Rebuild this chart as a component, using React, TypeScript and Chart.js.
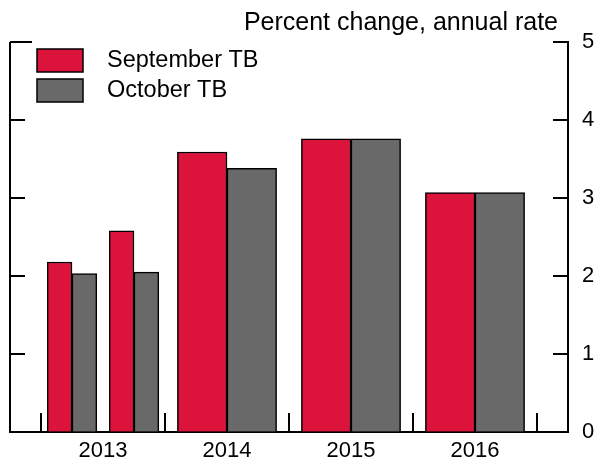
import React, { useEffect, useRef } from 'react';
import { Chart, registerables } from 'chart.js';

Chart.register(...registerables);

// ---- Data ----
const chartTitle = 'Percent change, annual rate';
const seriesNames = ['September TB', 'October TB'];
const seriesStacks = ['sept', 'oct'];
const seriesColors = ['#DC143C', '#696969'];
const years = ['2013', '2014', '2015', '2016'];
const halfYearPeriods = ['2013 H1', '2013 H2'];
const septHalf = [2.18, 2.58];
const octHalf = [2.03, 2.05];
const annualPeriods = ['2014', '2015', '2016'];
const septAnnual = [3.59, 3.76, 3.07];
const octAnnual = [3.38, 3.76, 3.07];
const yTicks = [0, 1, 2, 3, 4, 5];

const FONT = '"Liberation Sans", Arial, Helvetica, sans-serif';

const halfToX = (p: string) => {
  const [y, h] = p.split(' ');
  return Number(y) + (h === 'H1' ? 0.25 : 0.75);
};
const yearToX = (p: string) => Number(p) + 0.5;

const xMin = Number(years[0]) - 0.25;
const xMax = Number(years[years.length - 1]) + 1.25;

const decorPlugin = {
  id: 'decor',
  afterDatasetsDraw(chart: any) {
    const { ctx, chartArea, scales } = chart;
    const { left, right, top, bottom } = chartArea;
    ctx.save();
    ctx.strokeStyle = '#000';
    ctx.lineWidth = 2;
    // left frame line
    ctx.beginPath();
    ctx.moveTo(left, top);
    ctx.lineTo(left, bottom + 1);
    ctx.stroke();
    // inward y ticks on both sides
    yTicks.forEach((v) => {
      if (v === 0) return;
      const py = Math.round(scales.y.getPixelForValue(v));
      ctx.beginPath();
      ctx.moveTo(left, py);
      ctx.lineTo(left + (v === yTicks[yTicks.length - 1] ? 22 : 15), py);
      ctx.moveTo(right, py);
      ctx.lineTo(right - 15, py);
      ctx.stroke();
    });
    // year boundary ticks (upward from bottom axis)
    const bounds = [...years.map(Number), Number(years[years.length - 1]) + 1];
    bounds.forEach((b) => {
      const px = Math.round(scales.x.getPixelForValue(b));
      ctx.beginPath();
      ctx.moveTo(px, bottom);
      ctx.lineTo(px, bottom - 19);
      ctx.stroke();
    });
    // title
    ctx.fillStyle = '#000';
    ctx.font = `25px ${FONT}`;
    ctx.textAlign = 'right';
    ctx.textBaseline = 'middle';
    ctx.fillText(chartTitle, right - 10, 23);
    // legend
    ctx.font = `23.5px ${FONT}`;
    ctx.textAlign = 'left';
    ctx.lineWidth = 1.5;
    seriesNames.forEach((name, i) => {
      const bx = left + 27;
      const by = top + 7 + i * 30;
      ctx.fillStyle = seriesColors[i];
      ctx.fillRect(bx, by, 46, 23);
      ctx.strokeStyle = '#000';
      ctx.strokeRect(bx, by, 46, 23);
      ctx.fillStyle = '#000';
      ctx.fillText(name, left + 97, by + 12);
    });
    ctx.restore();
  },
};

const barCommon = {
  borderColor: '#000',
  borderWidth: 1.5,
  barThickness: 'flex',
  barPercentage: 1,
  categoryPercentage: 0.8,
};

export default function App() {
  const ref = useRef<HTMLCanvasElement | null>(null);
  useEffect(() => {
    if (!ref.current) return;
    const chart = new Chart(ref.current, {
      type: 'bar',
      data: {
        datasets: [
          {
            ...barCommon,
            label: seriesNames[0],
            stack: seriesStacks[0],
            backgroundColor: seriesColors[0],
            data: halfYearPeriods.map((p, i) => ({ x: halfToX(p), y: septHalf[i] })),
          },
          {
            ...barCommon,
            label: seriesNames[1],
            stack: seriesStacks[1],
            backgroundColor: seriesColors[1],
            data: halfYearPeriods.map((p, i) => ({ x: halfToX(p), y: octHalf[i] })),
          },
          {
            ...barCommon,
            label: seriesNames[0],
            stack: seriesStacks[0],
            backgroundColor: seriesColors[0],
            data: annualPeriods.map((p, i) => ({ x: yearToX(p), y: septAnnual[i] })),
          },
          {
            ...barCommon,
            label: seriesNames[1],
            stack: seriesStacks[1],
            backgroundColor: seriesColors[1],
            data: annualPeriods.map((p, i) => ({ x: yearToX(p), y: octAnnual[i] })),
          },
        ] as any,
      },
      options: {
        animation: false,
        responsive: false,
        layout: { padding: { left: 10, top: 42, right: 0, bottom: 0 } },
        plugins: { legend: { display: false }, title: { display: false }, tooltip: { enabled: false } },
        scales: {
          x: {
            type: 'linear',
            position: 'bottom',
            offset: false,
            min: xMin,
            max: xMax,
            afterBuildTicks: (s: any) => {
              s.ticks = years.map((y) => ({ value: yearToX(y) }));
            },
            ticks: {
              callback: (v: any) => String(Math.floor(Number(v))),
              font: { family: FONT, size: 22 },
              color: '#000',
              padding: 6,
              maxRotation: 0,
              autoSkip: false,
            },
            grid: { display: false, drawTicks: false, offset: false },
            border: { display: true, color: '#000', width: 2 },
            afterFit: (s: any) => {
              s.height = 34;
              s.paddingLeft = 0;
              s.paddingRight = 0;
            },
          },
          y: {
            position: 'right',
            min: 0,
            max: 5,
            afterBuildTicks: (s: any) => {
              s.ticks = yTicks.map((v) => ({ value: v }));
            },
            ticks: {
              font: { family: FONT, size: 22 },
              color: '#000',
              padding: 14,
            },
            grid: { drawOnChartArea: false, drawTicks: false },
            border: { display: true, color: '#000', width: 2 },
            afterFit: (s: any) => {
              s.width = 37;
            },
          },
        } as any,
      },
      plugins: [decorPlugin],
    });
    return () => chart.destroy();
  }, []);
  return (
    <div style={{ position: 'absolute', left: 0, top: 0, width: 605, height: 466 }}>
      <canvas ref={ref} width={605} height={466} style={{ display: 'block' }} />
    </div>
  );
}
